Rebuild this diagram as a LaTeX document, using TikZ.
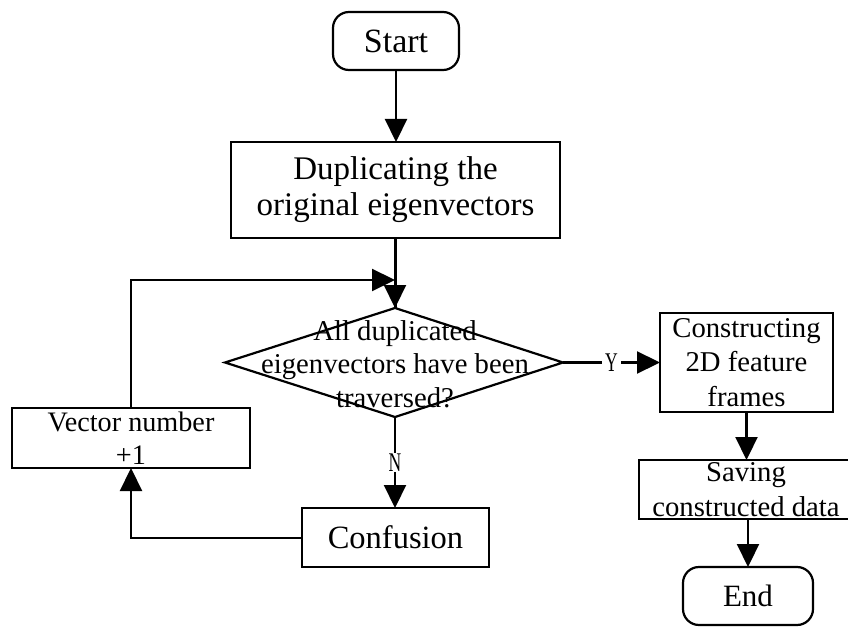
\documentclass[tikz,border=0pt]{standalone}
\usepackage{fontspec}
\setmainfont{Liberation Serif}
\usetikzlibrary{arrows.meta}
\tikzset{
  every node/.style={inner sep=0pt, outer sep=0pt},
  proc/.style={draw, line width=2.2pt, align=center},
  term/.style={proc, rounded corners=16pt},
  arr/.style={draw, line width=2.2pt, -{Triangle[length=23pt,width=22pt]}},
  link/.style={draw, line width=2.2pt},
  yn/.style={fill=white, inner xsep=3pt, inner ysep=1pt},
}
\newcommand{\fs}[2]{\fontsize{#1pt}{#2pt}\selectfont}
\newcommand{\cond}[1]{\scalebox{0.65}[1]{#1}}
\begin{document}
\begin{tikzpicture}[x=1pt, y=-1pt]
  \useasboundingbox (0,0) rectangle (848,628);
  \fill[white] (0,0) rectangle (848,628);

  % terminals and process boxes
  \node[term, minimum width=126pt, minimum height=58pt, font=\fs{34}{36}] (start) at (396,41) {Start};
  \node[proc, minimum width=329pt, minimum height=96pt, font=\fs{33}{36}] (dup) at (395.5,190) {Duplicating the\\original eigenvectors};

  % decision diamond
  \coordinate (dtop) at (395,308);
  \coordinate (dbot) at (395,417);
  \coordinate (dleft) at (225,362.5);
  \coordinate (dright) at (563,362.5);
  \draw[link, line join=miter] (dtop) -- (dright) -- (dbot) -- (dleft) -- cycle;
  \node[align=center, font=\fs{28.7}{33.5}] (dec) at (395,364) {All duplicated\\eigenvectors have been\\traversed?};

  \node[proc, minimum width=173pt, minimum height=99pt, font=\fs{28.7}{34.5}] (cons) at (746.5,362.5) {Constructing\\2D feature\\frames};
  \node[proc, minimum width=214pt, minimum height=59pt, font=\fs{28.7}{35}] (save) at (746,489.5) {Saving\\constructed data};
  \node[term, minimum width=130pt, minimum height=58pt, font=\fs{31}{34}] (end) at (748,596) {End};

  \node[proc, minimum width=238pt, minimum height=60pt, font=\fs{28.2}{33}] (vec) at (131,438) {Vector number\\+1};
  \node[proc, minimum width=187pt, minimum height=59pt, font=\fs{32.5}{36}] (conf) at (395.5,537.5) {Confusion};

  % loop-back corner points
  \coordinate (looptop) at (131,280);
  \coordinate (loopin) at (395,280);
  \coordinate (loopbot) at (131,538);

  % connectors
  \draw[arr] (start.south) -- (start.south |- dup.north);
  \draw[link] (dup.south) -- (dup.south |- dtop);
  \draw[arr] (loopin |- dup.south) -- (dtop);
  \draw[arr] (vec.north) -- (looptop) -- (loopin);
  \draw[arr] (dright) -- node[yn, font=\fs{27}{27}] (ylab) {\cond{Y}} (cons.west |- dright);
  \draw[arr] (dbot) -- node[yn, font=\fs{27}{27}] (nlab) {\cond{N}} (dbot |- conf.north);
  \draw[arr] (conf.west |- loopbot) -- (loopbot) -- (vec.south);
  \draw[arr] (cons.south) -- (cons.south |- save.north);
  \draw[arr] (end.north |- save.south) -- (end.north);
\end{tikzpicture}
\end{document}
